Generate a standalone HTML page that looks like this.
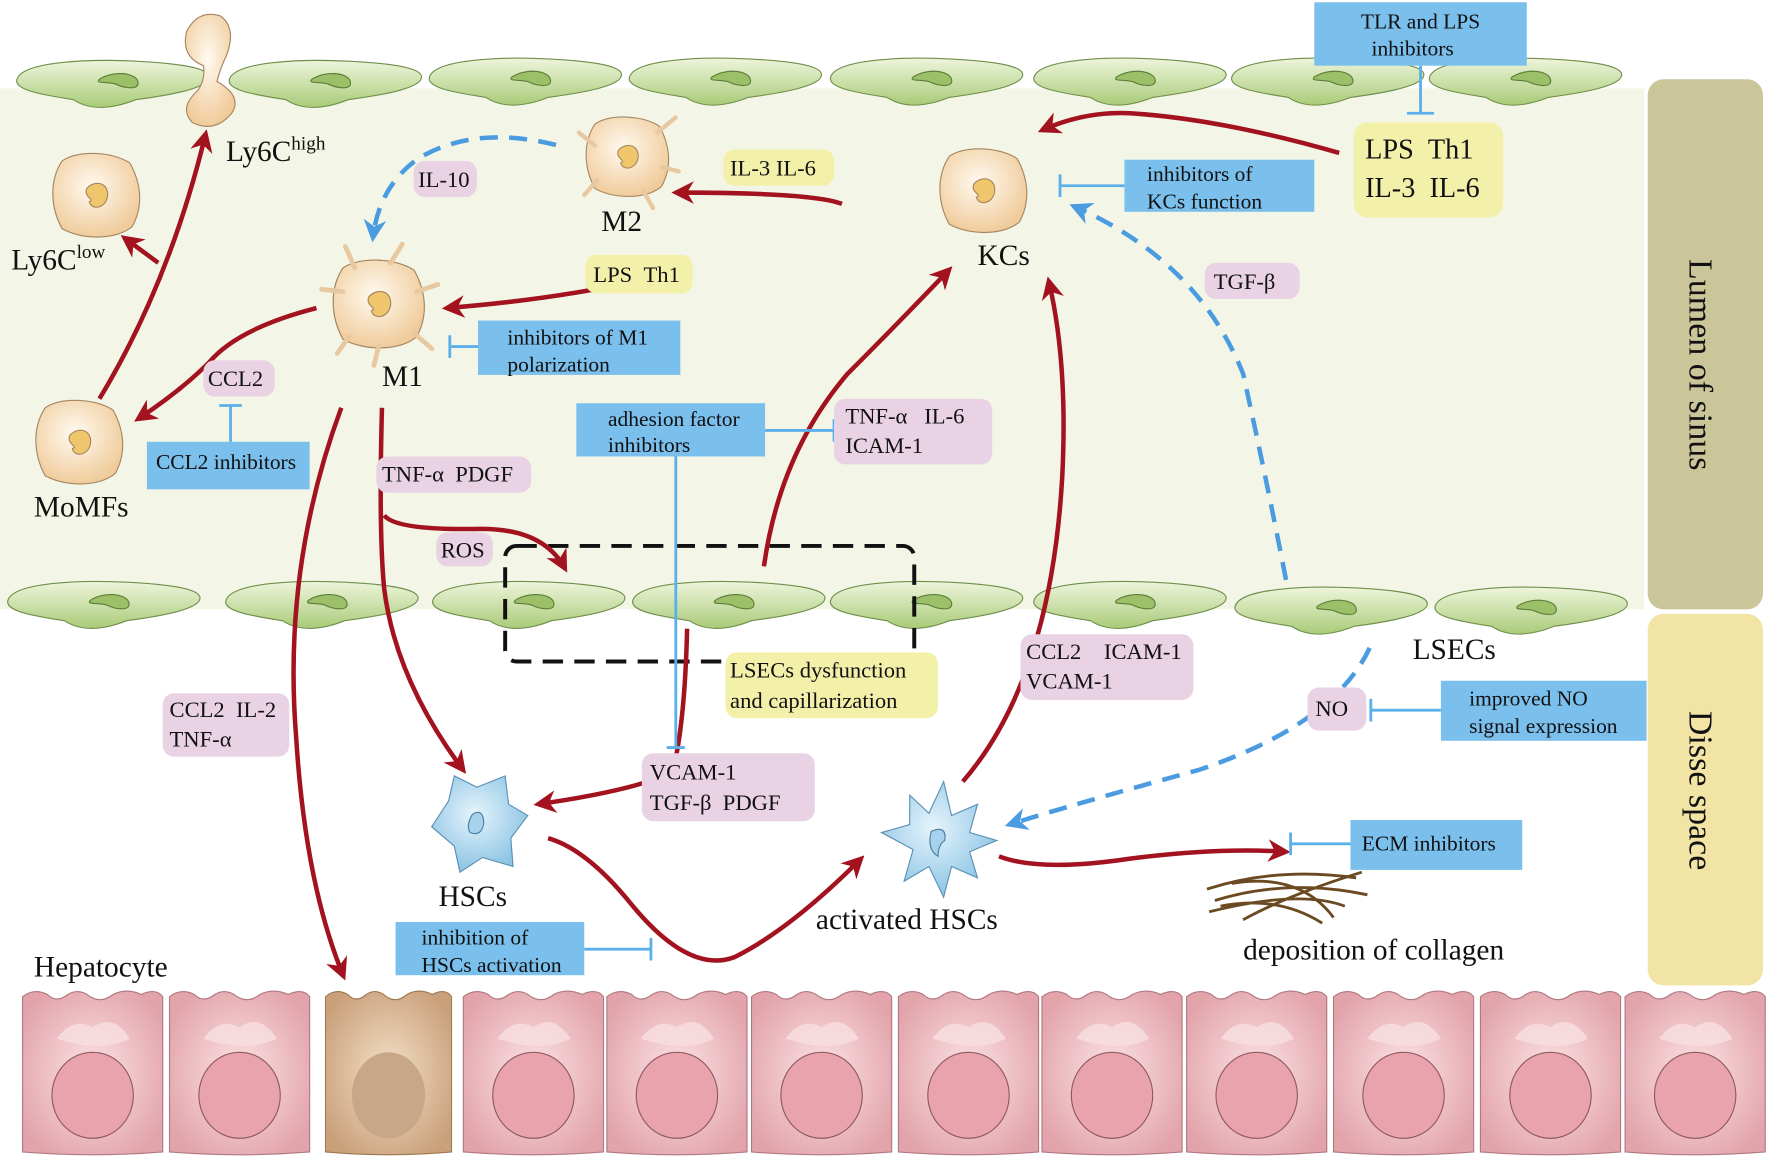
<!DOCTYPE html>
<html><head><meta charset="utf-8"><style>
html,body{margin:0;padding:0;background:#fff;}
svg{display:block;}
text{font-family:"Liberation Serif",serif;fill:#111;}
</style></head><body>
<svg width="1772" height="1161" viewBox="0 0 1568 1025" preserveAspectRatio="none" xmlns="http://www.w3.org/2000/svg">
<defs>
<linearGradient id="gr" x1="0" y1="0" x2="0" y2="1"><stop offset="0" stop-color="#eef5dc"/><stop offset="1" stop-color="#a9cb78"/></linearGradient>
<radialGradient id="tan" cx="0.45" cy="0.4" r="0.6"><stop offset="0" stop-color="#fffaf0"/><stop offset="1" stop-color="#f0cc9c"/></radialGradient>
<radialGradient id="blue" cx="0.45" cy="0.4" r="0.6"><stop offset="0" stop-color="#e6f4fc"/><stop offset="1" stop-color="#8cc4e4"/></radialGradient>
<radialGradient id="pk" cx="0.5" cy="0.5" r="0.6"><stop offset="0" stop-color="#fbe3e6"/><stop offset="1" stop-color="#e2a3aa"/></radialGradient>
<radialGradient id="br" cx="0.5" cy="0.5" r="0.6"><stop offset="0" stop-color="#f4e0c8"/><stop offset="1" stop-color="#c9a07a"/></radialGradient>
<g id="endo"><path d="M-85,0 C-80,-16 -20,-18 20,-16 C60,-14 85,-10 85,-2 C85,8 50,14 20,18 C0,26 -20,28 -35,18 C-60,14 -88,10 -85,0Z" fill="url(#gr)" stroke="#6f8f4a" stroke-width="1"/><path d="M-12,0 C0,-8 20,-6 22,2 C24,10 10,8 2,4 C-6,2 -16,4 -12,0Z" fill="#9cc068" stroke="#5d7d3a" stroke-width="1"/></g>
<g id="mac"><path d="M-30,-30 C-15,-40 15,-38 30,-28 C40,-10 42,10 32,28 C18,40 -12,40 -30,30 C-40,12 -42,-12 -30,-30Z" fill="url(#tan)" stroke="#a68560" stroke-width="1"/><path d="M-8,-6 C0,-14 12,-10 10,2 C8,12 -4,14 -6,6 C0,4 -12,2 -8,-6Z" fill="#f0c66c" stroke="#a68560"/></g>
<g id="hep"><path d="M0,8 Q10,0 22,6 Q30,14 40,6 Q50,0 60,8 Q70,14 80,6 Q92,0 105,6 Q118,0 124,8 L124,145 Q62,150 0,145Z" fill="url(#pk)" stroke="#b07880" stroke-width="1"/><path d="M30,45 Q45,25 62,35 Q80,22 95,45 Q70,58 30,45Z" fill="#f8dfe2" opacity="0.8"/><ellipse cx="62" cy="95" rx="36" ry="38" fill="#e8a3ad" stroke="#8f5860" stroke-width="1"/></g>
<marker id="ar" viewBox="0 0 10 10" refX="8" refY="5" markerWidth="5" markerHeight="5" orient="auto"><path d="M0,0 L10,5 L0,10 L3,5Z" fill="#a3121f"/></marker>
<marker id="ab" viewBox="0 0 10 10" refX="8" refY="5" markerWidth="5" markerHeight="5" orient="auto"><path d="M0,0 L10,5 L0,10 L3,5Z" fill="#4a9be0"/></marker>
</defs>

<rect x="0" y="78" width="1455" height="460" fill="#f3f6e6"/>
<rect x="1458" y="70" width="102" height="468" rx="14" fill="#cbc59a"/>
<rect x="1458" y="542" width="102" height="328" rx="14" fill="#f1e4a5"/>
<text transform="translate(1495,322) rotate(90)" text-anchor="middle" font-size="30">Lumen of sinus</text>
<text transform="translate(1495,698) rotate(90)" text-anchor="middle" font-size="30">Disse space</text>

<use href="#endo" x="100" y="70"/><use href="#endo" x="288" y="70"/><use href="#endo" x="465" y="68"/><use href="#endo" x="642" y="68"/><use href="#endo" x="820" y="68"/><use href="#endo" x="1000" y="68"/><use href="#endo" x="1175" y="68"/><use href="#endo" x="1350" y="68"/>
<use href="#endo" x="92" y="530"/><use href="#endo" x="285" y="530"/><use href="#endo" x="468" y="530"/><use href="#endo" x="645" y="530"/><use href="#endo" x="820" y="530"/><use href="#endo" x="1000" y="530"/><use href="#endo" x="1178" y="535"/><use href="#endo" x="1355" y="535"/>

<path d="M165,28 Q175,8 195,14 Q210,25 200,50 Q195,60 192,72 Q215,85 205,100 Q190,118 170,108 Q158,95 175,80 Q182,70 180,58 Q160,50 165,28Z" fill="url(#tan)" stroke="#a68560"/>

<use href="#hep" x="20" y="872"/><use href="#hep" x="150" y="872"/>
<g transform="translate(288,872) scale(0.9,1)"><path d="M0,8 Q10,0 22,6 Q30,14 40,6 Q50,0 60,8 Q70,14 80,6 Q92,0 105,6 Q118,0 124,8 L124,145 Q62,150 0,145Z" fill="url(#br)" stroke="#9c7850"/><ellipse cx="62" cy="95" rx="36" ry="38" fill="#c8a788"/></g>
<use href="#hep" x="410" y="872"/><use href="#hep" x="537" y="872"/><use href="#hep" x="665" y="872"/><use href="#hep" x="795" y="872"/><use href="#hep" x="922" y="872"/><use href="#hep" x="1050" y="872"/><use href="#hep" x="1180" y="872"/><use href="#hep" x="1310" y="872"/><use href="#hep" x="1438" y="872"/>

<use href="#mac" x="85" y="172"/>
<use href="#mac" x="70" y="390"/>
<g transform="translate(335,268) scale(1.05)"><use href="#mac"/><path d="M-30,-10 L-48,-12 M-20,-30 L-28,-48 M10,-34 L20,-50 M32,-10 L50,-16 M30,25 L45,38 M-25,28 L-35,42 M0,36 L-4,52" stroke="#e8c8a0" stroke-width="4" stroke-linecap="round"/></g>
<g transform="translate(555,138) scale(0.95)"><use href="#mac"/><path d="M-30,-10 L-45,-22 M28,-22 L45,-36 M32,10 L48,14 M-28,22 L-40,36 M15,32 L24,48" stroke="#e8c8a0" stroke-width="4" stroke-linecap="round"/></g>
<use href="#mac" x="870" y="168"/>
<g transform="translate(422,725)"><path d="M-40,5 L-25,-18 L-20,-40 L0,-30 L25,-40 L28,-15 L45,-5 L30,15 L32,40 L5,32 L-15,45 L-20,22Z" fill="url(#blue)" stroke="#5a8fb3"/><path d="M-4,-6 Q6,-12 6,2 Q4,14 -6,10 Q-10,4 -4,-6Z" fill="#a6d2ee" stroke="#4c7ea0"/></g>
<g transform="translate(830,740)"><path d="M-50,-5 L-25,-12 L-25,-38 L-8,-22 L5,-50 L12,-20 L35,-30 L28,-5 L52,2 L28,12 L35,35 L12,25 L5,52 L-8,25 L-30,38 L-22,10Z" fill="url(#blue)" stroke="#5a8fb3"/><path d="M-6,-6 Q8,-12 6,2 Q0,6 0,16 Q-10,10 -6,-6Z" fill="#a6d2ee" stroke="#4c7ea0"/></g>
<g stroke="#6b4a22" stroke-width="2.5" fill="none"><path d="M1068,785 Q1130,765 1200,775"/><path d="M1075,795 Q1140,775 1210,790"/><path d="M1070,805 Q1150,785 1190,800"/><path d="M1090,780 Q1150,770 1180,810"/><path d="M1100,812 Q1140,790 1205,770"/><path d="M1080,800 Q1130,790 1170,815"/></g>

<text x="200" y="142" font-size="26">Ly6C<tspan font-size="17" dy="-10">high</tspan></text>
<text x="10" y="238" font-size="26">Ly6C<tspan font-size="17" dy="-10">low</tspan></text>
<text x="30" y="456" font-size="26">MoMFs</text>
<text x="338" y="341" font-size="26">M1</text>
<text x="532" y="204" font-size="26">M2</text>
<text x="865" y="234" font-size="26">KCs</text>
<text x="388" y="800" font-size="26">HSCs</text>
<text x="722" y="820" font-size="26">activated HSCs</text>
<text x="1100" y="847" font-size="26">deposition of collagen</text>
<text x="30" y="862" font-size="26">Hepatocyte</text>
<text x="1250" y="582" font-size="26">LSECs</text>

<rect x="447" y="482" width="362" height="102" rx="10" fill="none" stroke="#111" stroke-width="3.5" stroke-dasharray="18,10"/>

<g stroke="#a3121f" stroke-width="4" fill="none" marker-end="url(#ar)">
<path d="M88,352 Q150,250 182,118"/>
<path d="M140,232 L110,210"/>
<path d="M280,272 Q210,290 185,320 Q160,345 122,370"/>
<path d="M612,236 Q520,262 395,272"/>
<path d="M745,180 Q720,170 598,170"/>
<path d="M1185,135 Q1080,105 1000,100 Q960,98 922,115"/>
<path d="M302,360 Q250,500 262,650 Q270,780 304,862"/>
<path d="M338,360 Q335,470 340,520 Q350,600 410,680"/>
<path d="M340,455 Q350,468 420,467 Q480,465 500,502"/>
<path d="M676,500 Q690,400 750,330 Q800,280 840,238"/>
<path d="M608,555 Q606,640 595,682 Q560,698 476,710"/>
<path d="M852,690 Q930,600 940,420 Q945,320 928,248"/>
<path d="M485,740 Q520,750 560,800 Q610,860 650,845 Q700,820 762,758"/>
<path d="M884,756 Q920,770 1000,758 Q1080,748 1138,752"/>
</g>
<g stroke="#4a9be0" stroke-width="4" fill="none" stroke-dasharray="16,10" marker-end="url(#ab)">
<path d="M492,128 Q420,110 370,140 Q335,165 330,210"/>
<path d="M1138,512 Q1120,420 1100,330 Q1060,230 950,182"/>
<path d="M1212,572 Q1180,640 1060,680 Q950,710 893,728"/>
</g>

<g stroke="#5bb0ea" stroke-width="2.5" fill="none">
<path d="M1257,58 L1257,100 M1245,100 L1269,100"/>
<path d="M995,164 L938,164 M938,154 L938,174"/>
<path d="M425,306 L398,306 M398,296 L398,316"/>
<path d="M204,390 L204,358 M194,358 L214,358"/>
<path d="M677,380 L738,380 M738,370 L738,390"/>
<path d="M598,402 L598,660 M590,660 L606,660"/>
<path d="M1275,627 L1213,627 M1213,617 L1213,637"/>
<path d="M517,838 L576,838 M576,828 L576,848"/>
<path d="M1195,745 L1142,745 M1142,735 L1142,755"/>
</g>

<g fill="#7bbfed">
<rect x="1163" y="2" width="188" height="56"/>
<rect x="995" y="141" width="168" height="46"/>
<rect x="423" y="283" width="179" height="48"/>
<rect x="130" y="390" width="144" height="42"/>
<rect x="510" y="356" width="167" height="47"/>
<rect x="1275" y="601" width="182" height="53"/>
<rect x="350" y="814" width="167" height="47"/>
<rect x="1195" y="724" width="152" height="44"/>
</g>
<g font-size="19">
<text x="1257" y="25" text-anchor="middle">TLR and LPS</text><text x="1250" y="49" text-anchor="middle">inhibitors</text>
<text x="1015" y="160">inhibitors of</text><text x="1015" y="184">KCs function</text>
<text x="449" y="304">inhibitors of M1</text><text x="449" y="328">polarization</text>
<text x="138" y="414">CCL2 inhibitors</text>
<text x="538" y="376">adhesion factor</text><text x="538" y="399">inhibitors</text>
<text x="1300" y="623">improved NO</text><text x="1300" y="647">signal expression</text>
<text x="373" y="834">inhibition of</text><text x="373" y="858">HSCs activation</text>
<text x="1205" y="751">ECM inhibitors</text>
</g>

<g fill="#f3f0a9">
<rect x="1198" y="108" width="132" height="84" rx="12"/>
<rect x="640" y="132" width="98" height="32" rx="10"/>
<rect x="518" y="225" width="95" height="34" rx="10"/>
<rect x="642" y="576" width="188" height="58" rx="10"/>
</g>
<text x="1208" y="140" font-size="25">LPS&#160;&#160;Th1</text><text x="1208" y="174" font-size="25">IL-3&#160;&#160;IL-6</text>
<text x="646" y="155" font-size="20">IL-3 IL-6</text>
<text x="525" y="249" font-size="20">LPS&#160;&#160;Th1</text>
<text x="646" y="598" font-size="20">LSECs dysfunction</text><text x="646" y="625" font-size="20">and capillarization</text>

<g fill="#e8d2e4">
<rect x="366" y="142" width="56" height="32" rx="10"/>
<rect x="180" y="318" width="63" height="32" rx="10"/>
<rect x="333" y="403" width="137" height="32" rx="10"/>
<rect x="386" y="470" width="50" height="30" rx="10"/>
<rect x="738" y="352" width="140" height="58" rx="10"/>
<rect x="1066" y="232" width="84" height="32" rx="10"/>
<rect x="903" y="560" width="153" height="58" rx="10"/>
<rect x="1157" y="607" width="52" height="38" rx="10"/>
<rect x="144" y="612" width="112" height="56" rx="10"/>
<rect x="568" y="665" width="153" height="60" rx="10"/>
</g>
<g font-size="20">
<text x="370" y="165">IL-10</text>
<text x="184" y="341">CCL2</text>
<text x="338" y="425">TNF-α&#160;&#160;PDGF</text>
<text x="390" y="492">ROS</text>
<text x="748" y="374">TNF-α&#160;&#160;&#160;IL-6</text><text x="748" y="400">ICAM-1</text>
<text x="1074" y="255">TGF-β</text>
<text x="908" y="582">CCL2&#160;&#160;&#160;&#160;ICAM-1</text><text x="908" y="608">VCAM-1</text>
<text x="1164" y="632">NO</text>
<text x="150" y="633">CCL2&#160;&#160;IL-2</text><text x="150" y="659">TNF-α</text>
<text x="575" y="688">VCAM-1</text><text x="575" y="715">TGF-β&#160;&#160;PDGF</text>
</g>
</svg>
</body></html>
